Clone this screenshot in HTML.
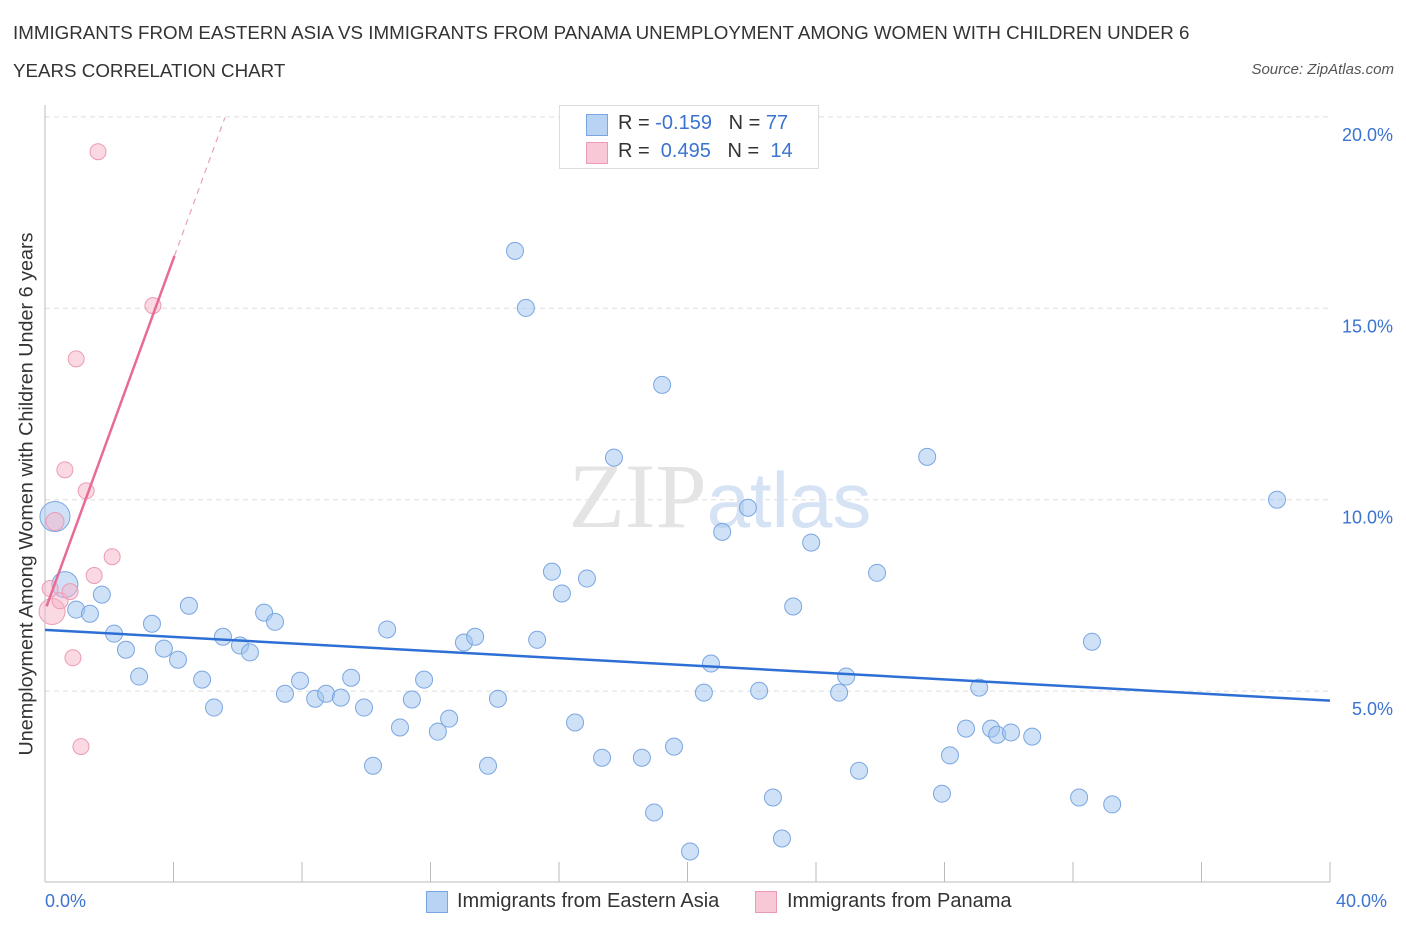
<!DOCTYPE html>
<html><head><meta charset="utf-8"><style>
body{margin:0;background:#fff;font-family:"Liberation Sans",sans-serif;}
#wrap{position:relative;width:1406px;height:930px;overflow:hidden;}
.t{position:absolute;color:#333;font-size:18px;}
</style></head><body><div id="wrap">
<div class="t" style="left:13px;top:22px;font-size:18.75px">IMMIGRANTS FROM EASTERN ASIA VS IMMIGRANTS FROM PANAMA UNEMPLOYMENT AMONG WOMEN WITH CHILDREN UNDER 6</div>
<div class="t" style="left:13px;top:60px;font-size:18.75px">YEARS CORRELATION CHART</div>
<div class="t" style="right:12px;top:61px;font-size:15px;font-style:italic;color:#555">Source: ZipAtlas.com</div>
<svg id="svg" width="1406" height="930" style="position:absolute;left:0;top:0"></svg>
</div>
<script>
const blueX=[0.31,0.62,0.97,1.40,1.77,2.15,2.52,2.93,3.33,3.70,4.14,4.48,4.89,5.26,5.54,6.07,6.38,6.82,7.16,7.47,7.94,8.41,8.75,9.21,9.53,9.93,10.21,10.65,11.05,11.42,11.80,12.23,12.58,13.04,13.39,13.79,14.10,14.63,14.97,15.32,15.78,16.09,16.50,16.87,17.34,17.71,18.58,18.96,19.21,19.58,20.08,20.51,20.73,21.08,21.88,22.23,22.66,22.94,23.29,23.85,24.72,24.94,25.34,25.90,27.46,27.92,28.17,28.67,29.08,29.45,29.64,30.07,30.73,32.19,32.59,33.22,38.35];
const blueY=[9.56,7.78,7.13,7.02,7.52,6.50,6.08,5.38,6.76,6.11,5.82,7.23,5.30,4.57,6.42,6.19,6.01,7.05,6.81,4.93,5.27,4.80,4.93,4.83,5.35,4.57,3.05,6.61,4.05,4.78,5.30,3.94,4.28,6.27,6.42,3.05,4.80,16.50,15.01,6.34,8.12,7.55,4.18,7.94,3.26,11.10,3.26,1.83,13.00,3.55,0.81,4.96,5.72,9.16,9.79,5.01,2.22,1.15,7.21,8.88,4.96,5.38,2.92,8.09,11.12,2.32,3.32,4.02,5.09,4.02,3.86,3.92,3.81,2.22,6.29,2.04,10.00];
const blueR=[15,13];
const pinkX=[0.31,0.22,0.16,0.47,0.78,0.87,1.12,1.28,1.53,1.65,2.09,3.36,0.62,0.97];
const pinkY=[9.43,7.08,7.68,7.36,7.60,5.87,3.55,10.23,8.02,19.09,8.51,15.07,10.78,13.68];
const pinkR=[9,13];
const blueTrend=[6.6,4.75];
const pinkTrend=[7.1,2.3];
const yTicks=[5,10,15,20];
const yTickLabels=["5.0%","10.0%","15.0%","20.0%"];

const X=v=>45+v/40*1285, Y=v=>882.5-v*38.28;
const NS="http://www.w3.org/2000/svg", svg=document.getElementById('svg');
function mk(tag,a,parent){const e=document.createElementNS(NS,tag);for(const k in a)e.setAttribute(k,a[k]);(parent||svg).appendChild(e);return e;}
yTicks.forEach((v,i)=>{
 const g=mk('line',{x1:45,x2:1330,y1:Y(v),y2:Y(v),stroke:'#ddd','stroke-dasharray':'5,4'});
 
 
 const t=mk('text',{x:1393,y:Y(v)+24,'text-anchor':'end',fill:'#3b73d1','font-size':18,'font-family':'Liberation Sans'});
 t.textContent=yTickLabels[i];
 
 
});
const ax=mk('line',{x1:45,x2:1330,y1:882,y2:882,stroke:'#bbb'});


const ay=mk('line',{x1:45,x2:45,y1:105,y2:882,stroke:'#bbb'});


for(let i=0;i<=10;i++){const tk=mk('line',{x1:45+i*128.5,x2:45+i*128.5,y1:862,y2:882,stroke:'#bbb'});
 
 }
const wm=mk('text',{x:720,y:527,'text-anchor':'middle','font-size':92,'font-family':'Liberation Serif',fill:'#e4e4e4'});
wm.innerHTML='ZIP<tspan fill="#d6e3f5" font-family="Liberation Sans" font-size="78">atlas</tspan>';


blueX.forEach((x,i)=>{const c=mk('circle',{cx:X(x),cy:Y(blueY[i]),r:blueR[i]||8.5,fill:'rgba(160,196,240,0.5)',stroke:'#7aa6e2','stroke-width':1});
 
 });
pinkX.forEach((x,i)=>{const c=mk('circle',{cx:X(x),cy:Y(pinkY[i]),r:pinkR[i]||8,fill:'rgba(248,180,200,0.5)',stroke:'#eb9bb4','stroke-width':1});
 
 });
const bt=mk('line',{x1:X(0),y1:Y(blueTrend[0]),x2:X(40),y2:Y(blueTrend[1]),stroke:'#2e6fd6','stroke-width':2.5});


const pf=v=>pinkTrend[0]+pinkTrend[1]*v;
const pt=mk('line',{x1:X(0.05),y1:Y(pf(0.05)),x2:X(4.03),y2:Y(pf(4.03)),stroke:'#e86b96','stroke-width':2.5});


const pd=mk('line',{x1:X(4.03),y1:Y(pf(4.03)),x2:X(5.6),y2:Y(pf(5.6)),stroke:'#eaa0b8','stroke-width':1.2,'stroke-dasharray':'6,5'});


</script>
<div style="position:absolute;left:559px;top:105px;width:258px;height:62px;border:1px solid #ddd;background:#fff;font-size:20px;color:#333">
 <div style="position:absolute;left:26px;top:8px;width:20px;height:20px;background:#b9d3f5;border:1px solid #7aa6e2"></div>
 <div style="position:absolute;left:58px;top:6px;white-space:pre">R = <span style="color:#3b73d1">-0.159</span>   N = <span style="color:#3b73d1">77</span></div>
 <div style="position:absolute;left:26px;top:36px;width:20px;height:20px;background:#f9c8d6;border:1px solid #eb9bb4"></div>
 <div style="position:absolute;left:58px;top:34px;white-space:pre">R =  <span style="color:#3b73d1">0.495</span>   N =  <span style="color:#3b73d1">14</span></div>
</div>
<div class="t" style="left:45px;top:891px;color:#3b73d1">0.0%</div>
<div class="t" style="left:1336px;top:891px;color:#3b73d1">40.0%</div>
<div style="position:absolute;left:426px;top:891px;width:20px;height:20px;background:#b9d3f5;border:1px solid #7aa6e2"></div>
<div class="t" style="left:457px;top:890px;font-size:20px">Immigrants from Eastern Asia</div>
<div style="position:absolute;left:755px;top:891px;width:20px;height:20px;background:#f9c8d6;border:1px solid #eb9bb4"></div>
<div class="t" style="left:787px;top:890px;font-size:20px">Immigrants from Panama</div>
<div class="t" style="left:27px;top:494px;font-size:19.8px;transform:translate(-50%,-50%) rotate(-90deg);transform-origin:center;white-space:nowrap">Unemployment Among Women with Children Under 6 years</div>
</body></html>
